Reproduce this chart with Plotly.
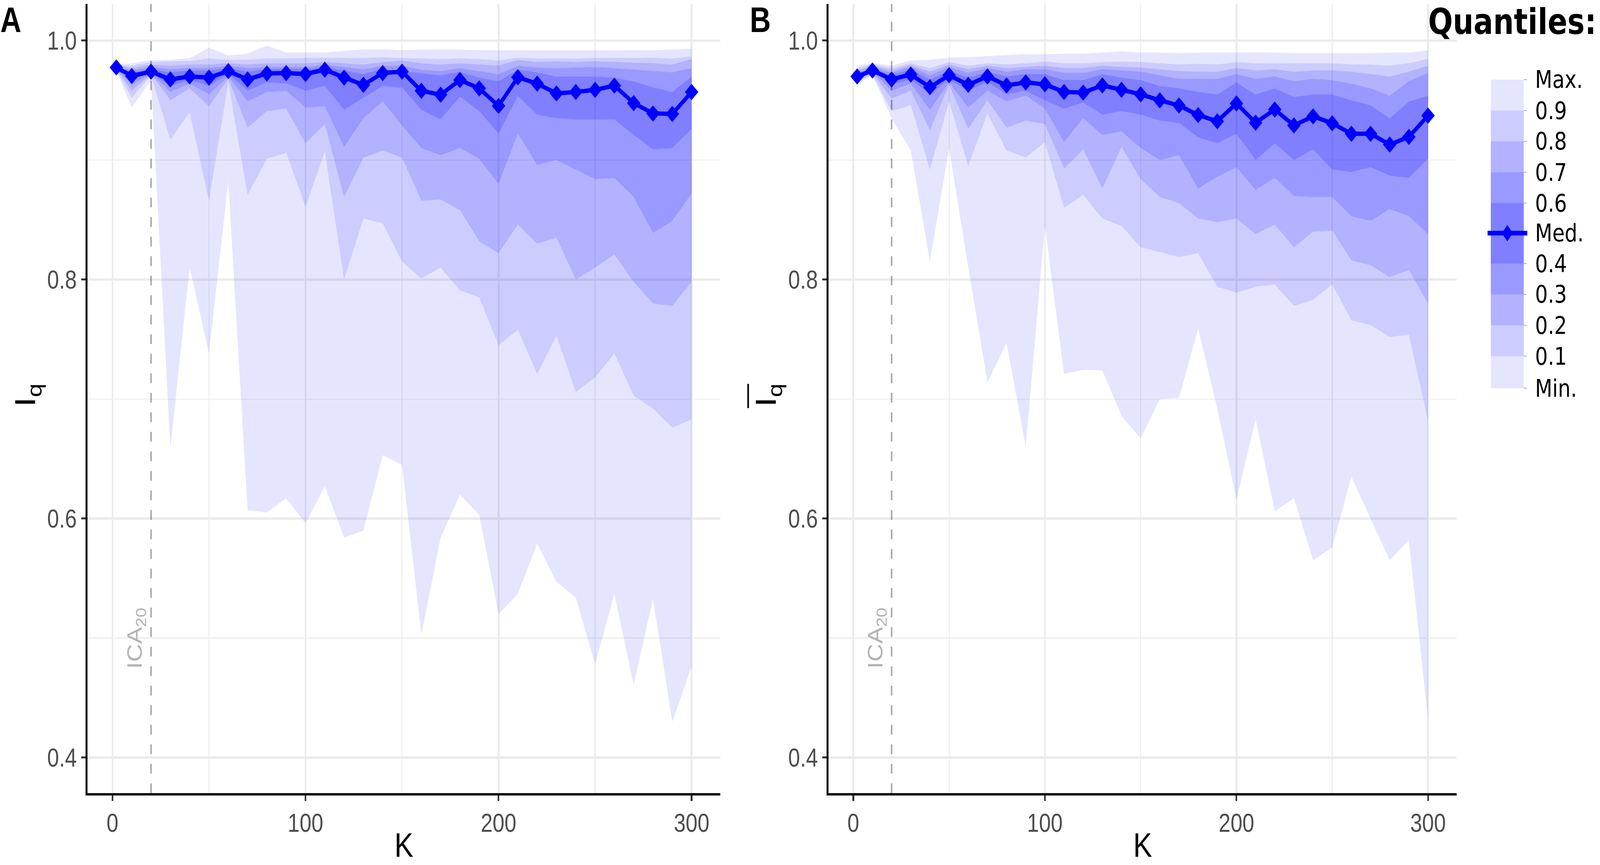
import plotly.graph_objects as go

# ---------------- data ----------------
K = [2, 10, 20, 30, 40, 50, 60, 70, 80, 90, 100, 110, 120, 130, 140, 150, 160, 170, 180, 190,
     200, 210, 220, 230, 240, 250, 260, 270, 280, 290, 300]
ICA_K = 20

A_min = [0.975, 0.944, 0.967, 0.659, 0.810, 0.738, 0.882, 0.607, 0.605, 0.617, 0.596, 0.627, 0.584, 0.590, 0.653, 0.645,
         0.503, 0.584, 0.620, 0.603, 0.520, 0.537, 0.579, 0.547, 0.534, 0.478, 0.537, 0.461, 0.533, 0.430, 0.476]
A_q10 = [0.9755, 0.952, 0.971, 0.917, 0.940, 0.866, 0.965, 0.871, 0.901, 0.906, 0.861, 0.907, 0.800, 0.851, 0.847, 0.815,
         0.801, 0.810, 0.791, 0.785, 0.745, 0.758, 0.721, 0.753, 0.706, 0.718, 0.738, 0.703, 0.692, 0.676, 0.683]
A_q20 = [0.976, 0.958, 0.972, 0.950, 0.960, 0.945, 0.968, 0.927, 0.941, 0.943, 0.914, 0.930, 0.869, 0.902, 0.908, 0.902,
         0.866, 0.867, 0.858, 0.832, 0.822, 0.846, 0.830, 0.835, 0.800, 0.810, 0.821, 0.798, 0.780, 0.778, 0.798]
A_q30 = [0.9765, 0.963, 0.9725, 0.957, 0.964, 0.955, 0.970, 0.949, 0.957, 0.958, 0.944, 0.945, 0.911, 0.935, 0.949, 0.929,
         0.910, 0.904, 0.910, 0.901, 0.880, 0.922, 0.896, 0.900, 0.892, 0.884, 0.885, 0.869, 0.839, 0.849, 0.872]
A_q40 = [0.977, 0.967, 0.973, 0.962, 0.967, 0.962, 0.972, 0.958, 0.965, 0.964, 0.958, 0.962, 0.942, 0.952, 0.962, 0.9605,
         0.942, 0.934, 0.953, 0.941, 0.922, 0.9535, 0.938, 0.935, 0.934, 0.934, 0.934, 0.921, 0.909, 0.910, 0.926]
A_med = [0.9775, 0.9704, 0.974, 0.9675, 0.970, 0.969, 0.9745, 0.9675, 0.9725, 0.9728, 0.972, 0.9757, 0.969, 0.963, 0.9728,
         0.974, 0.958, 0.9547, 0.967, 0.960, 0.9453, 0.9693, 0.964, 0.9558, 0.957, 0.9588, 0.9623, 0.9477, 0.939, 0.9386, 0.957]
A_q60 = [0.978, 0.9735, 0.976, 0.9735, 0.975, 0.975, 0.977, 0.974, 0.976, 0.9765, 0.976, 0.978, 0.975, 0.972, 0.9765, 0.9745,
         0.9728, 0.971, 0.974, 0.969, 0.966, 0.9757, 0.9734, 0.970, 0.970, 0.970, 0.969, 0.966, 0.961, 0.957, 0.970]
A_q70 = [0.9785, 0.975, 0.978, 0.976, 0.977, 0.977, 0.979, 0.977, 0.978, 0.978, 0.978, 0.980, 0.978, 0.976, 0.979, 0.979,
         0.9757, 0.9745, 0.9769, 0.9745, 0.972, 0.979, 0.9775, 0.9769, 0.9775, 0.978, 0.9769, 0.9757, 0.9745, 0.9734, 0.9769]
A_q80 = [0.979, 0.977, 0.980, 0.979, 0.980, 0.980, 0.981, 0.980, 0.981, 0.981, 0.981, 0.982, 0.981, 0.980, 0.982, 0.9833,
         0.981, 0.980, 0.981, 0.980, 0.979, 0.9839, 0.9821, 0.9827, 0.9821, 0.9827, 0.9821, 0.9815, 0.981, 0.980, 0.9845]
A_q90 = [0.9795, 0.979, 0.982, 0.9825, 0.983, 0.985, 0.984, 0.984, 0.985, 0.985, 0.9855, 0.9855, 0.9855, 0.9855, 0.986, 0.9856,
         0.985, 0.9845, 0.985, 0.9845, 0.9833, 0.9856, 0.985, 0.985, 0.985, 0.9856, 0.9856, 0.9856, 0.9856, 0.985, 0.9868]
A_max = [0.980, 0.981, 0.9836, 0.984, 0.9853, 0.994, 0.9876, 0.989, 0.9958, 0.990, 0.990, 0.990, 0.9915, 0.9926, 0.9926, 0.992,
         0.9925, 0.9925, 0.9925, 0.992, 0.992, 0.992, 0.992, 0.992, 0.992, 0.992, 0.992, 0.992, 0.992, 0.9925, 0.9932]

B_min = [0.963, 0.971, 0.935, 0.908, 0.815, 0.910, 0.810, 0.714, 0.747, 0.660, 0.845, 0.721, 0.7245, 0.724, 0.686, 0.667,
         0.700, 0.701, 0.759, 0.692, 0.616, 0.683, 0.606, 0.617, 0.565, 0.576, 0.635, 0.600, 0.565, 0.582, 0.431]
B_q10 = [0.965, 0.972, 0.941, 0.946, 0.892, 0.949, 0.895, 0.939, 0.908, 0.902, 0.915, 0.860, 0.871, 0.851, 0.845, 0.827,
         0.823, 0.819, 0.822, 0.794, 0.789, 0.794, 0.796, 0.778, 0.783, 0.796, 0.766, 0.762, 0.752, 0.754, 0.682]
B_q20 = [0.966, 0.973, 0.9515, 0.958, 0.925, 0.963, 0.926, 0.950, 0.927, 0.933, 0.930, 0.893, 0.909, 0.876, 0.911, 0.884,
         0.869, 0.864, 0.851, 0.848, 0.851, 0.838, 0.846, 0.827, 0.840, 0.841, 0.816, 0.812, 0.802, 0.808, 0.780]
B_q30 = [0.967, 0.974, 0.958, 0.964, 0.942, 0.965, 0.944, 0.958, 0.949, 0.954, 0.943, 0.915, 0.935, 0.921, 0.924, 0.910,
         0.900, 0.904, 0.876, 0.886, 0.894, 0.875, 0.885, 0.870, 0.869, 0.869, 0.853, 0.849, 0.859, 0.853, 0.838]
B_q40 = [0.969, 0.9745, 0.963, 0.9675, 0.955, 0.9675, 0.958, 0.965, 0.955, 0.958, 0.950, 0.943, 0.948, 0.938, 0.941, 0.938,
         0.933, 0.931, 0.919, 0.914, 0.922, 0.900, 0.914, 0.900, 0.909, 0.892, 0.890, 0.894, 0.887, 0.885, 0.901]
B_med = [0.970, 0.975, 0.9675, 0.9716, 0.961, 0.971, 0.963, 0.970, 0.9625, 0.965, 0.9634, 0.957, 0.9565, 0.9625, 0.9588, 0.955,
         0.950, 0.9457, 0.9377, 0.9325, 0.9474, 0.9313, 0.9423, 0.929, 0.9366, 0.9308, 0.922, 0.922, 0.913, 0.9194, 0.9372]
B_q60 = [0.9715, 0.9765, 0.971, 0.976, 0.9675, 0.975, 0.969, 0.974, 0.970, 0.972, 0.972, 0.967, 0.967, 0.972, 0.969, 0.967,
         0.962, 0.960, 0.957, 0.955, 0.965, 0.955, 0.960, 0.953, 0.955, 0.955, 0.950, 0.946, 0.935, 0.949, 0.954]
B_q70 = [0.973, 0.978, 0.973, 0.978, 0.971, 0.978, 0.973, 0.977, 0.974, 0.976, 0.976, 0.973, 0.973, 0.976, 0.975, 0.974,
         0.971, 0.968, 0.968, 0.968, 0.972, 0.968, 0.970, 0.966, 0.968, 0.967, 0.964, 0.960, 0.954, 0.966, 0.973]
B_q80 = [0.975, 0.979, 0.975, 0.9795, 0.974, 0.980, 0.976, 0.979, 0.977, 0.978, 0.979, 0.977, 0.977, 0.979, 0.978, 0.9775,
         0.976, 0.9745, 0.974, 0.974, 0.977, 0.975, 0.976, 0.974, 0.975, 0.975, 0.974, 0.972, 0.970, 0.974, 0.979]
B_q90 = [0.977, 0.980, 0.977, 0.981, 0.977, 0.982, 0.979, 0.981, 0.980, 0.981, 0.9825, 0.981, 0.981, 0.982, 0.9825, 0.982,
         0.981, 0.980, 0.9805, 0.980, 0.982, 0.981, 0.981, 0.981, 0.981, 0.981, 0.980, 0.980, 0.979, 0.981, 0.9847]
B_max = [0.979, 0.9813, 0.979, 0.9835, 0.984, 0.9858, 0.9862, 0.987, 0.988, 0.9886, 0.9886, 0.989, 0.989, 0.990, 0.991, 0.990,
         0.990, 0.9895, 0.990, 0.990, 0.990, 0.990, 0.990, 0.9895, 0.9895, 0.9895, 0.9895, 0.9895, 0.990, 0.990, 0.992]

X_TICKS = [0, 100, 200, 300]
X_MINOR = [50, 150, 250]
Y_TICKS = [0.4, 0.6, 0.8, 1.0]
Y_TICKTEXT = ["0.4", "0.6", "0.8", "1.0"]
Y_MINOR = [0.5, 0.7, 0.9]
LEGEND_LABELS = ["Max.", "0.9", "0.8", "0.7", "0.6", "Med.", "0.4", "0.3", "0.2", "0.1", "Min."]
BAND_ALPHAS = [0.1, 0.2, 0.3, 0.4, 0.5, 0.4, 0.3, 0.2, 0.1]   # Min->0.1, ..., 0.9->Max

# ---------------- geometry helpers (design pixels) ----------------
W, H = 4953, 2215
def px(x):
    return x / W
def py(y):
    return 1 - y / H

XR = [-12.9, 314.9]
YR = [0.3702, 1.0307]
XDOM_A = [px(271), px(2230)]
XDOM_B = [px(2565), px(4509)]
YDOM = [py(2031), py(10)]

BLUE = "#0000ff"
def band(a):
    return f"rgba(0,0,255,{a})"

fig = go.Figure()

def add_panel(xa, ya, qs, med):
    # qs: [min, q10, q20, q30, q40, q60, q70, q80, q90, max]
    fig.add_trace(go.Scatter(x=K, y=qs[0], mode="lines", line=dict(width=0),
                             xaxis=xa, yaxis=ya, showlegend=False, hoverinfo="skip"))
    for i in range(1, len(qs)):
        fig.add_trace(go.Scatter(x=K, y=qs[i], mode="lines", line=dict(width=0),
                                 fill="tonexty", fillcolor=band(BAND_ALPHAS[i - 1]),
                                 xaxis=xa, yaxis=ya, showlegend=False, hoverinfo="skip"))
    # ICA_20 reference line
    fig.add_trace(go.Scatter(x=[ICA_K, ICA_K], y=YR, mode="lines",
                             line=dict(color="rgba(0,0,0,0.33)", width=5, dash="25px,25px"),
                             xaxis=xa, yaxis=ya, showlegend=False, hoverinfo="skip"))
    fig.add_trace(go.Scatter(x=K, y=med, mode="lines+markers",
                             line=dict(color=BLUE, width=11),
                             marker=dict(symbol="diamond", size=32, color=BLUE, line=dict(width=0)),
                             xaxis=xa, yaxis=ya, showlegend=False, hoverinfo="skip"))

add_panel("x", "y", [A_min, A_q10, A_q20, A_q30, A_q40, A_q60, A_q70, A_q80, A_q90, A_max], A_med)
add_panel("x2", "y2", [B_min, B_q10, B_q20, B_q30, B_q40, B_q60, B_q70, B_q80, B_q90, B_max], B_med)

TICKFONT = dict(family="Liberation Sans, Arial, sans-serif", size=66, color="#4d4d4d")
GRID = "#ebebeb"

def xaxis_cfg(dom, anchor):
    return dict(domain=dom, anchor=anchor, range=XR, tickmode="array", tickvals=X_TICKS,
                showgrid=True, gridcolor=GRID, gridwidth=5.5, zeroline=False,
                minor=dict(tickmode="array", tickvals=X_MINOR, showgrid=True, gridcolor=GRID,
                           gridwidth=2.75, ticks=""),
                showline=True, linecolor="black", linewidth=6,
                ticks="outside", ticklen=14, tickwidth=5, tickcolor="#333333",
                tickfont=TICKFONT, fixedrange=True)

def yaxis_cfg(anchor):
    return dict(domain=YDOM, anchor=anchor, range=YR, tickmode="array", tickvals=Y_TICKS,
                ticktext=Y_TICKTEXT, showgrid=True, gridcolor=GRID, gridwidth=5.5, zeroline=False,
                minor=dict(tickmode="array", tickvals=Y_MINOR, showgrid=True, gridcolor=GRID,
                           gridwidth=2.75, ticks=""),
                showline=True, linecolor="black", linewidth=6,
                ticks="outside", ticklen=14, tickwidth=5, tickcolor="#333333",
                tickfont=TICKFONT, fixedrange=True)

annotations = []
TXT = "Liberation Sans, Arial, sans-serif"
# panel letters (box top at the page edge)
for lab, x0 in [("A", 0), ("B", 2320)]:
    annotations.append(dict(text=f"<b>{lab}</b>", x=px(x0), y=py(0), xref="paper", yref="paper",
                            xanchor="left", yanchor="top", showarrow=False, borderpad=0,
                            font=dict(family=TXT, size=90, color="black")))
# axis titles
for cx in [(271 + 2230) / 2, (2565 + 4509) / 2]:
    annotations.append(dict(text="K", x=px(cx), y=py(2214), xref="paper", yref="paper",
                            xanchor="center", yanchor="bottom", showarrow=False, borderpad=0,
                            font=dict(family=TXT, size=88, color="black")))
for cx in [84, 2377]:
    annotations.append(dict(text="I<sub>q</sub>", x=px(cx), y=py(1012), xref="paper", yref="paper",
                            xanchor="center", yanchor="middle", showarrow=False, textangle=-90,
                            font=dict(family=TXT, size=90, color="black")))
# ICA20 labels
for xr, yr in [("x", "y"), ("x2", "y2")]:
    annotations.append(dict(text="ICA<sub>20</sub>", x=ICA_K - 0.8, y=0.50, xref=xr, yref=yr,
                            xanchor="right", yanchor="middle", showarrow=False, textangle=-90,
                            font=dict(family=TXT, size=64, color="#b3b3b3")))

shapes = []
# overline on the B y-title
shapes.append(dict(type="line", xref="paper", yref="paper", x0=px(2316), x1=px(2316),
                   y0=py(983), y1=py(1045), line=dict(color="black", width=5)))

# ---------------- legend ----------------
annotations.append(dict(text="<b>Quantiles:</b>", x=px(4420), y=py(2), xref="paper", yref="paper",
                        xanchor="left", yanchor="top", showarrow=False, borderpad=0,
                        font=dict(family="DejaVu Sans", size=90, color="black")))
LEG_X0, LEG_X1 = 4615, 4717
label_y = [204, 283, 362, 441, 520, 597, 675, 754, 833, 912, 994]
band_edges = [204, 283, 362, 441, 520, 675, 754, 833, 912, 994]
alphas_top_down = BAND_ALPHAS[::-1]
for i in range(len(band_edges) - 1):
    shapes.append(dict(type="rect", xref="paper", yref="paper",
                       x0=px(LEG_X0), x1=px(LEG_X1), y0=py(band_edges[i + 1]), y1=py(band_edges[i]),
                       fillcolor=band(alphas_top_down[i]), line=dict(width=0), layer="above"))
for yb in band_edges:
    shapes.append(dict(type="line", xref="paper", yref="paper", x0=px(LEG_X1), x1=px(4727),
                       y0=py(yb), y1=py(yb), line=dict(color="rgba(0,0,255,0.35)", width=2)))
# median key
shapes.append(dict(type="line", xref="paper", yref="paper", x0=px(4605), x1=px(4728),
                   y0=py(597), y1=py(597), line=dict(color=BLUE, width=12), layer="above"))
cxm, cym, hw, hh = 4666, 597, 17, 21
shapes.append(dict(type="path", xref="paper", yref="paper",
                   path=f"M {px(cxm-hw)},{py(cym)} L {px(cxm)},{py(cym-hh)} L {px(cxm+hw)},{py(cym)} L {px(cxm)},{py(cym+hh)} Z",
                   fillcolor=BLUE, line=dict(width=0), layer="above"))
for lab, yl in zip(LEGEND_LABELS, label_y):
    annotations.append(dict(text=lab, x=px(4750), y=py(yl), xref="paper", yref="paper",
                            xanchor="left", yanchor="middle", showarrow=False,
                            font=dict(family="DejaVu Sans", size=62, color="black")))

fig.update_layout(
    width=W, height=H, margin=dict(l=0, r=0, t=0, b=0),
    paper_bgcolor="white", plot_bgcolor="white",
    xaxis=xaxis_cfg(XDOM_A, "y"), yaxis=yaxis_cfg("x"),
    xaxis2=xaxis_cfg(XDOM_B, "y2"), yaxis2=yaxis_cfg("x2"),
    annotations=annotations, shapes=shapes, showlegend=False,
)

# Fit the fixed-size design into whatever CSS viewport the browser gives us.
FIT_JS = """
(function(){
  var gd = document.getElementById('{plot_id}');
  function fit(){
    var de = document.documentElement, b = document.body;
    de.style.margin = '0'; de.style.padding = '0'; de.style.overflow = 'hidden';
    b.style.margin = '0'; b.style.padding = '0'; b.style.overflow = 'hidden';
    var vw = window.innerWidth, vh = window.innerHeight;
    var sx = vw / %d, sy = vh / %d;
    gd.style.transformOrigin = '0 0';
    gd.style.transform = 'scale(' + sx + ',' + sy + ')';
    var p = gd.parentElement;
    p.style.width = vw + 'px'; p.style.height = vh + 'px'; p.style.overflow = 'hidden';
  }
  fit();
  window.addEventListener('resize', fit);
})();
""" % (W, H)

fig.write_html("out.html", post_script=FIT_JS,
               config={"responsive": False, "displayModeBar": False, "staticPlot": True})
